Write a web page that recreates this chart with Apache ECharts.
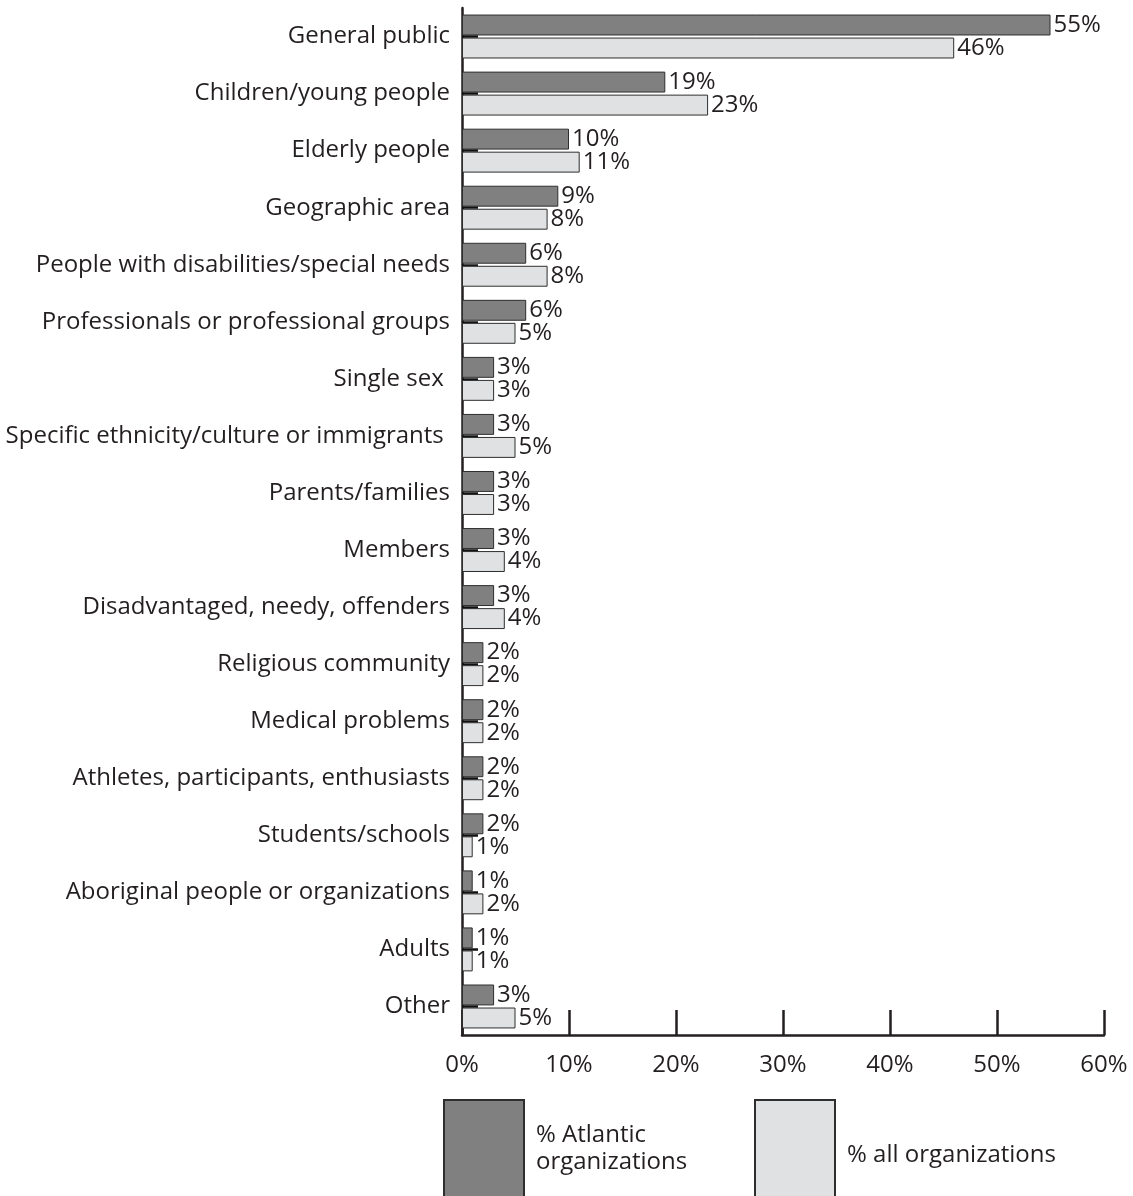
<!DOCTYPE html>
<html>
<head>
<meta charset="utf-8">
<script src="https://cdn.jsdelivr.net/npm/echarts@6/dist/echarts.min.js"></script>
<style>html,body{margin:0;padding:0;background:#fff}#c{width:1133px;height:1196px}</style>
</head>
<body>
<div id="c"></div>
<script>
const categories = [
  'General public', 'Children/young people', 'Elderly people', 'Geographic area',
  'People with disabilities/special needs', 'Professionals or professional groups',
  'Single sex ', 'Specific ethnicity/culture or immigrants ', 'Parents/families', 'Members',
  'Disadvantaged, needy, offenders', 'Religious community', 'Medical problems',
  'Athletes, participants, enthusiasts', 'Students/schools', 'Aboriginal people or organizations',
  'Adults', 'Other'
];
const atlantic = [55, 19, 10, 9, 6, 6, 3, 3, 3, 3, 3, 2, 2, 2, 2, 1, 1, 3];
const allOrgs  = [46, 23, 11, 8, 8, 5, 3, 5, 3, 4, 4, 2, 2, 2, 1, 2, 1, 5];
const seriesNames = ['% Atlantic organizations', '% all organizations'];
const xTicks = [0, 10, 20, 30, 40, 50, 60];

const FONT = '"Open Sans", "Noto Sans", sans-serif';
const FS = 24;
const TXT = '#231f20';

const chart = echarts.init(document.getElementById('c'), null, {renderer: 'canvas'});
chart.setOption({
  animation: false,
  backgroundColor: '#fff',
  textStyle: {fontFamily: FONT},
  grid: {left: 462, right: 29, top: 8, height: 1027, containLabel: false},
  xAxis: {
    type: 'value', min: xTicks[0], max: xTicks[xTicks.length - 1], interval: 10,
    axisLine: {show: true, lineStyle: {color: TXT, width: 2.5}},
    axisTick: {show: true, inside: true, length: 25, lineStyle: {color: TXT, width: 2.5}},
    splitLine: {show: false},
    axisLabel: {formatter: '{value}%', fontSize: FS, color: TXT, margin: 18, fontFamily: FONT}
  },
  yAxis: {
    type: 'category', data: categories, inverse: true,
    axisLine: {show: true, lineStyle: {color: TXT, width: 2.5}},
    axisTick: {show: true, inside: true, alignWithLabel: true, length: 16, lineStyle: {color: '#111', width: 2.5}},
    axisLabel: {fontSize: FS, color: TXT, margin: 12, fontFamily: FONT}
  },
  legend: [
    {
      left: 443, top: 1099, padding: 0, itemWidth: 80, itemHeight: 97, icon: 'rect',
      data: [seriesNames[0]],
      formatter: () => '% Atlantic\norganizations',
      textStyle: {fontSize: FS, color: TXT, lineHeight: 27, padding: [0, 0, 0, 7], fontFamily: FONT}
    },
    {
      left: 754, top: 1099, padding: 0, itemWidth: 80, itemHeight: 97, icon: 'rect',
      data: [seriesNames[1]],
      formatter: (n) => '\n' + n,
      textStyle: {fontSize: FS, color: TXT, lineHeight: 14, padding: [0, 0, 0, 7], fontFamily: FONT}
    }
  ],
  series: [
    {
      name: seriesNames[0], type: 'bar', data: atlantic,
      barCategoryGap: '23%', barGap: '10%',
      itemStyle: {color: '#808080', borderColor: '#2e2e2e', borderWidth: 1},
      label: {show: true, position: 'right', distance: 3, formatter: '{c}%', fontSize: FS, color: TXT, fontFamily: FONT}
    },
    {
      name: seriesNames[1], type: 'bar', data: allOrgs,
      barCategoryGap: '23%', barGap: '10%',
      itemStyle: {color: '#e0e1e2', borderColor: '#2e2e2e', borderWidth: 1},
      label: {show: true, position: 'right', distance: 3, formatter: '{c}%', fontSize: FS, color: TXT, fontFamily: FONT}
    }
  ]
});
</script>
</body>
</html>
